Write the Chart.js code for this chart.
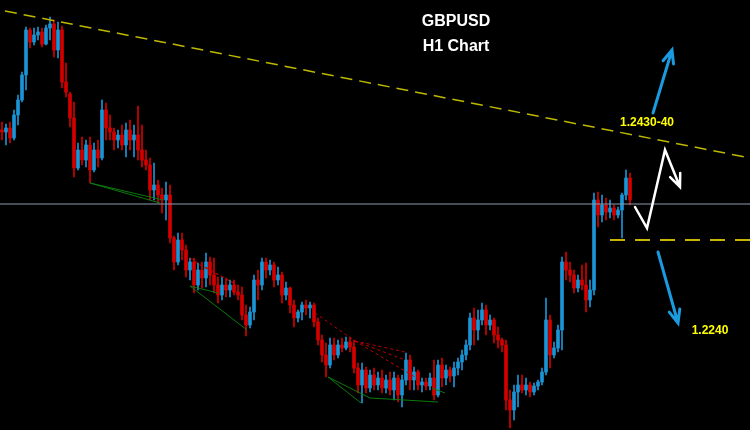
<!DOCTYPE html>
<html>
<head>
<meta charset="utf-8">
<script src="https://cdn.jsdelivr.net/npm/chart.js@4.4.1/dist/chart.umd.min.js"></script>
<style>
  html, body { margin: 0; padding: 0; background: #000; }
  #wrap { width: 750px; height: 430px; background: #000; }
</style>
</head>
<body>
<div id="wrap"><canvas id="myChart"></canvas></div>
<script>
// H1 candles: [open, high, low, close]
const ohlc = [
  [1.2445,1.2453,1.2435,1.2443],[1.2443,1.2451,1.2430,1.2447],[1.2447,1.2453,1.2432,1.2437],[1.2437,1.2465,1.2435,1.2460],
  [1.2460,1.2480,1.2450,1.2475],[1.2475,1.2503,1.2473,1.2500],[1.2500,1.2548,1.2485,1.2545],[1.2545,1.2547,1.2527,1.2533],
  [1.2533,1.2547,1.2530,1.2540],[1.2540,1.2548,1.2535,1.2543],[1.2543,1.2547,1.2528,1.2531],[1.2531,1.2550,1.2530,1.2547],
  [1.2547,1.2558,1.2535,1.2551],[1.2551,1.2555,1.2518,1.2525],[1.2525,1.2553,1.2517,1.2545],[1.2545,1.2549,1.2487,1.2493],
  [1.2493,1.2512,1.2478,1.2483],[1.2481,1.2483,1.2448,1.2457],[1.2457,1.2473,1.2398,1.2407],[1.2407,1.2432,1.2405,1.2425],
  [1.2425,1.2438,1.2410,1.2415],[1.2415,1.2435,1.2408,1.2430],[1.2430,1.2438,1.2392,1.2405],[1.2405,1.2432,1.2403,1.2425],
  [1.2425,1.2435,1.2408,1.2417],[1.2417,1.2475,1.2415,1.2465],[1.2465,1.2472,1.2435,1.2447],[1.2447,1.2460,1.2435,1.2443],
  [1.2443,1.2447,1.2425,1.2435],[1.2435,1.2445,1.2427,1.2440],[1.2440,1.2450,1.2425,1.2430],[1.2430,1.2452,1.2418,1.2445],
  [1.2445,1.2455,1.2425,1.2435],[1.2435,1.2450,1.2418,1.2440],[1.2440,1.2469,1.2415,1.2425],[1.2425,1.2450,1.2408,1.2415],
  [1.2415,1.2425,1.2405,1.2410],[1.2410,1.2417,1.2375,1.2385],[1.2385,1.2412,1.2375,1.2390],[1.2390,1.2395,1.2372,1.2380],
  [1.2380,1.2387,1.2362,1.2375],[1.2375,1.2393,1.2355,1.2380],[1.2380,1.2390,1.2332,1.2337],[1.2337,1.2339,1.2305,1.2313],
  [1.2313,1.2342,1.2310,1.2335],[1.2335,1.2342,1.2315,1.2325],[1.2325,1.2330,1.2298,1.2305],[1.2305,1.2317,1.2295,1.2313],
  [1.2313,1.2317,1.2282,1.2290],[1.2290,1.2312,1.2285,1.2305],[1.2305,1.2313,1.2287,1.2297],[1.2297,1.2322,1.2288,1.2313],
  [1.2313,1.2318,1.2290,1.2300],[1.2300,1.2317,1.2282,1.2290],[1.2290,1.2298,1.2272,1.2280],[1.2280,1.2298,1.2275,1.2290],
  [1.2290,1.2297,1.2278,1.2285],[1.2285,1.2295,1.2278,1.2290],[1.2290,1.2295,1.2280,1.2283],[1.2283,1.2290,1.2275,1.2280],
  [1.2280,1.2288,1.2255,1.2260],[1.2260,1.2270,1.2239,1.2250],[1.2250,1.2268,1.2247,1.2263],[1.2263,1.2300,1.2255,1.2295],
  [1.2295,1.2305,1.2275,1.2290],[1.2290,1.2317,1.2285,1.2313],[1.2313,1.2317,1.2297,1.2305],[1.2305,1.2315,1.2300,1.2310],
  [1.2310,1.2313,1.2288,1.2295],[1.2295,1.2308,1.2290,1.2300],[1.2300,1.2303,1.2272,1.2280],[1.2280,1.2293,1.2275,1.2287],
  [1.2287,1.2288,1.2262,1.2270],[1.2270,1.2275,1.2248,1.2257],[1.2257,1.2265,1.2253,1.2263],[1.2263,1.2273,1.2255,1.2270],
  [1.2270,1.2275,1.2260,1.2267],[1.2267,1.2273,1.2257,1.2270],[1.2270,1.2272,1.2248,1.2253],[1.2253,1.2257,1.2230,1.2235],
  [1.2235,1.2240,1.2213,1.2220],[1.2220,1.2232,1.2198,1.2210],[1.2210,1.2237,1.2207,1.2230],[1.2230,1.2237,1.2215,1.2220],
  [1.2220,1.2235,1.2217,1.2230],[1.2230,1.2237,1.2223,1.2227],[1.2227,1.2238,1.2225,1.2233],[1.2233,1.2238,1.2223,1.2228],
  [1.2228,1.2235,1.2202,1.2207],[1.2207,1.2212,1.2182,1.2190],[1.2190,1.2212,1.2172,1.2205],[1.2205,1.2208,1.2182,1.2187],
  [1.2187,1.2205,1.2183,1.2200],[1.2200,1.2207,1.2185,1.2190],[1.2190,1.2203,1.2185,1.2197],[1.2197,1.2205,1.2182,1.2187],
  [1.2187,1.2200,1.2182,1.2195],[1.2195,1.2203,1.2180,1.2185],[1.2185,1.2203,1.2175,1.2197],[1.2197,1.2200,1.2173,1.2180],
  [1.2180,1.2200,1.2168,1.2195],[1.2195,1.2222,1.2190,1.2215],[1.2215,1.2220,1.2185,1.2195],[1.2195,1.2208,1.2185,1.2203],
  [1.2203,1.2205,1.2185,1.2190],[1.2190,1.2197,1.2183,1.2193],[1.2193,1.2197,1.2185,1.2189],[1.2189,1.2202,1.2185,1.2197],
  [1.2197,1.2215,1.2175,1.2180],[1.2180,1.2215,1.2178,1.2210],[1.2210,1.2217,1.2188,1.2197],[1.2197,1.2210,1.2190,1.2205],
  [1.2205,1.2208,1.2193,1.2199],[1.2199,1.2213,1.2188,1.2207],[1.2207,1.2217,1.2200,1.2213],[1.2213,1.2225,1.2205,1.2220],
  [1.2220,1.2235,1.2215,1.2230],[1.2230,1.2262,1.2225,1.2257],[1.2257,1.2267,1.2230,1.2245],[1.2245,1.2265,1.2235,1.2255],
  [1.2255,1.2272,1.2250,1.2265],[1.2265,1.2270,1.2240,1.2250],[1.2250,1.2260,1.2245,1.2255],[1.2255,1.2257,1.2232,1.2240],
  [1.2240,1.2248,1.2227,1.2235],[1.2235,1.2237,1.2223,1.2230],[1.2230,1.2235,1.2165,1.2175],[1.2175,1.2185,1.2147,1.2165],
  [1.2165,1.2190,1.2155,1.2183],[1.2183,1.2200,1.2168,1.2190],[1.2190,1.2200,1.2182,1.2185],[1.2185,1.2197,1.2180,1.2190],
  [1.2190,1.2193,1.2178,1.2183],[1.2183,1.2192,1.2180,1.2189],[1.2189,1.2195,1.2185,1.2193],[1.2193,1.2207,1.2190,1.2203],
  [1.2203,1.2277,1.2200,1.2255],[1.2255,1.2260,1.2207,1.2220],[1.2220,1.2233,1.2217,1.2227],[1.2227,1.2250,1.2223,1.2245],
  [1.2245,1.2318,1.2225,1.2313],[1.2313,1.2323,1.2295,1.2305],[1.2305,1.2313,1.2293,1.2300],[1.2300,1.2305,1.2282,1.2287],
  [1.2287,1.2300,1.2283,1.2295],[1.2295,1.2310,1.2285,1.2290],[1.2290,1.2312,1.2263,1.2275],[1.2275,1.2295,1.2268,1.2285],
  [1.2285,1.2382,1.2280,1.2375],[1.2375,1.2383,1.2348,1.2360],[1.2360,1.2380,1.2353,1.2370],[1.2370,1.2377,1.2355,1.2363],
  [1.2363,1.2375,1.2357,1.2367],[1.2367,1.2370,1.2355,1.2360],[1.2360,1.2368,1.2357,1.2365],[1.2365,1.2382,1.2337,1.2380],
  [1.2380,1.2405,1.2375,1.2397],[1.2397,1.2402,1.2370,1.2375]
];

// visible bar slots and price range
const xRange = [-0.5, 187];
const yRange = [1.2145, 1.2575];

// drawn levels: [[x, price], [x, price]]
const trendLine = [[0.75, 1.2564], [187, 1.2417]];
const pivotLine = [[-0.5, 1.2371], [187, 1.2371]];
const supportLine = [[152, 1.2335], [187, 1.2335]];
const greenLines = [
  [[22, 1.2392], [40.25, 1.2375]],
  [[22, 1.2392], [39.5, 1.2372]],
  [[47, 1.2289], [61.25, 1.2245]],
  [[47, 1.2289], [54, 1.2282]],
  [[81.5, 1.2198], [89.75, 1.2172]],
  [[81.5, 1.2198], [92, 1.2177]],
  [[92, 1.2177], [109, 1.2173]],
  [[107.5, 1.2187], [110.75, 1.2182]]
];
const redLines = [
  [[47, 1.2317], [59.5, 1.2288]],
  [[48, 1.2313], [58, 1.2292]],
  [[78.25, 1.2262], [88.25, 1.2234]],
  [[88.25, 1.2234], [100.75, 1.2223]],
  [[88.25, 1.2234], [100.75, 1.2215]],
  [[88.25, 1.2234], [104.5, 1.2195]]
];

// scenario arrows (x, price) and labels
const arrowUp = [[162.75, 1.2462], [167.5, 1.2525]];
const arrowZigzag = [[158.25, 1.2368], [161.25, 1.2347], [165.75, 1.2425], [169.5, 1.2388]];
const arrowDown = [[164, 1.2323], [169, 1.2252]];
const levelLabels = [
  { text: '1.2430-40', x: 161.25, y: 1.2452 },
  { text: '1.2240', x: 177, y: 1.2244 }
];
const titleLines = ['GBPUSD', 'H1 Chart'];

const RED = '#d40000';
const BLUE = '#1a94d4';

const wicks = ohlc.map((c, i) => ({ x: i, y: [c[2], c[1]] }));
const bodies = ohlc.map((c, i) => ({ x: i, y: [Math.min(c[0], c[3]), Math.max(c[0], c[3])] }));
const candleColors = ohlc.map(c => (c[3] >= c[0] ? BLUE : RED));

function lineSet(pts, color, width, dash) {
  return {
    type: 'line',
    data: pts.map(p => ({ x: p[0], y: p[1] })),
    borderColor: color,
    borderWidth: width,
    borderDash: dash || [],
    pointRadius: 0,
    fill: false,
    order: 0
  };
}

const lineSets = [
  lineSet(pivotLine, '#8d9caf', 1),
  lineSet(trendLine, '#bdb800', 1.5, [12, 7]),
  lineSet(supportLine, '#c8b400', 2, [15, 10])
];
greenLines.forEach(s => lineSets.push(lineSet(s, '#0b7a0b', 1)));
redLines.forEach(s => lineSets.push(lineSet(s, '#c00000', 1, [3, 3])));

const overlay = {
  id: 'overlay',
  afterDatasetsDraw(chart) {
    const ctx = chart.ctx;
    const xs = chart.scales.x, ys = chart.scales.y;
    const px = p => [xs.getPixelForValue(p[0]), ys.getPixelForValue(p[1])];

    function arrow(pts, color, width) {
      const P = pts.map(px);
      ctx.save();
      ctx.strokeStyle = color;
      ctx.lineWidth = width;
      ctx.lineCap = 'round';
      ctx.lineJoin = 'miter';
      ctx.beginPath();
      ctx.moveTo(P[0][0], P[0][1]);
      for (let i = 1; i < P.length; i++) ctx.lineTo(P[i][0], P[i][1]);
      const a = P[P.length - 2], b = P[P.length - 1];
      const ang = Math.atan2(b[1] - a[1], b[0] - a[0]);
      const len = 14;
      ctx.moveTo(b[0] - len * Math.cos(ang - 0.4), b[1] - len * Math.sin(ang - 0.4));
      ctx.lineTo(b[0], b[1]);
      ctx.lineTo(b[0] - len * Math.cos(ang + 0.4), b[1] - len * Math.sin(ang + 0.4));
      ctx.stroke();
      ctx.restore();
    }
    arrow(arrowUp, '#1a9be0', 3);
    arrow(arrowDown, '#1a9be0', 3);
    arrow(arrowZigzag, '#ffffff', 2.5);

    ctx.save();
    ctx.textAlign = 'center';
    ctx.textBaseline = 'middle';
    ctx.fillStyle = '#ffff00';
    ctx.font = 'bold 12px "Liberation Sans", Arial, sans-serif';
    levelLabels.forEach(l => {
      const p = px([l.x, l.y]);
      ctx.fillText(l.text, p[0], p[1]);
    });
    ctx.fillStyle = '#ffffff';
    ctx.font = 'bold 16px "Liberation Sans", Arial, sans-serif';
    titleLines.forEach((t, i) => ctx.fillText(t, 456, 22 + i * 25));
    ctx.restore();
  }
};

const ctx = document.getElementById('myChart').getContext('2d');
new Chart(ctx, {
  type: 'bar',
  data: {
    datasets: [
      ...lineSets,
      {
        data: wicks,
        backgroundColor: candleColors,
        barThickness: 1,
        grouped: false,
        order: 2
      },
      {
        data: bodies,
        backgroundColor: candleColors,
        barThickness: 3,
        minBarLength: 1,
        grouped: false,
        order: 1
      }
    ]
  },
  options: {
    responsive: true,
    maintainAspectRatio: false,
    animation: false,
    layout: { padding: 0 },
    scales: {
      x: { type: 'linear', min: xRange[0], max: xRange[1], display: false, offset: false },
      y: { min: yRange[0], max: yRange[1], display: false }
    },
    plugins: {
      legend: { display: false },
      tooltip: { enabled: false }
    }
  },
  plugins: [overlay]
});
</script>
</body>
</html>
